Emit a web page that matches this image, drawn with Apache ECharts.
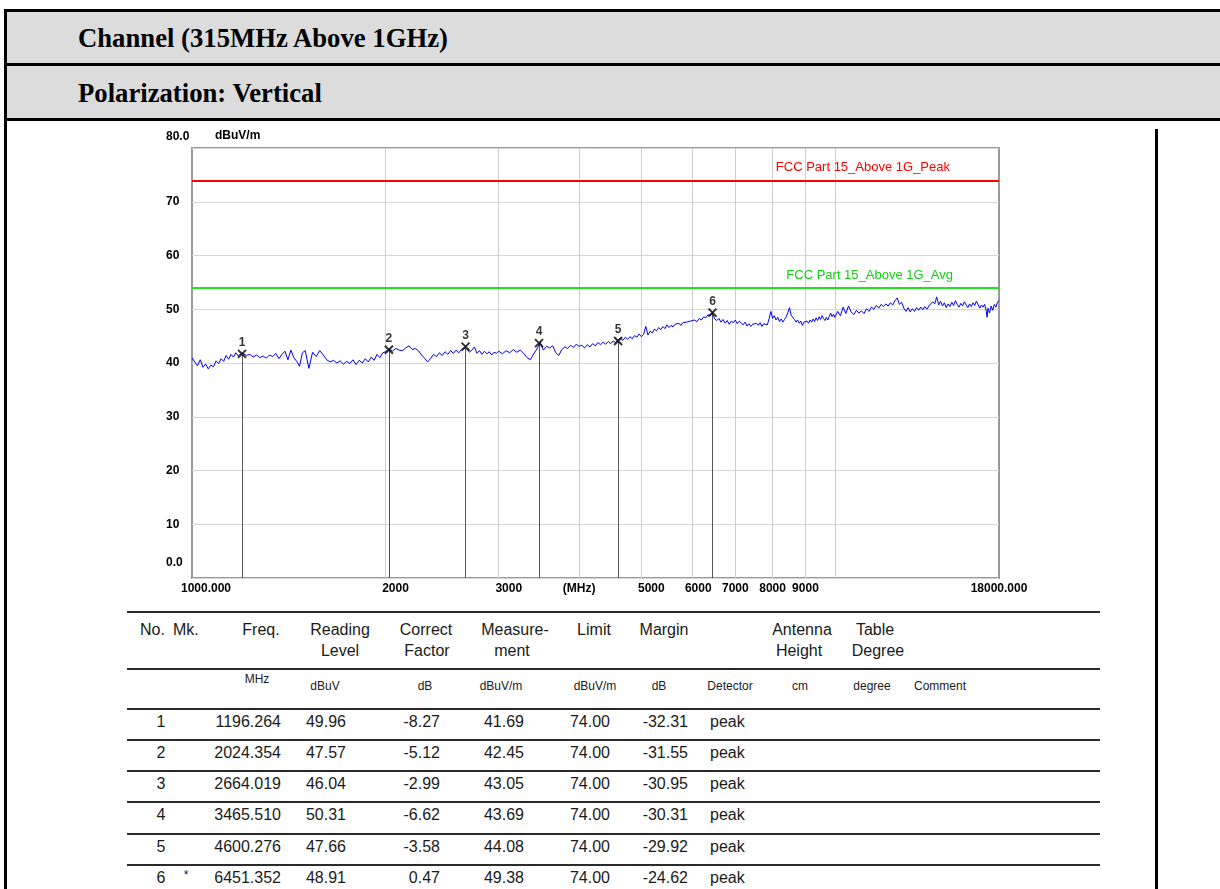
<!DOCTYPE html>
<html>
<head>
<meta charset="utf-8">
<title>Channel (315MHz Above 1GHz) - Vertical</title>
<script src="https://cdn.jsdelivr.net/npm/echarts@6/dist/echarts.min.js"></script>
<style>
  body { margin: 0; width: 1220px; height: 889px; position: relative; overflow: hidden; background: #fff; }
  .band { position: absolute; left: 4px; width: 1216px; height: 55px; background: #dcdcdc; }
  .rule { position: absolute; background: #000; }
  .htxt { position: absolute; left: 78px; font: bold 26.7px 'Liberation Serif', 'Times New Roman', serif; line-height: 30px; color: #000; }
  #chart { position: absolute; left: 0; top: 0; width: 1220px; height: 605px; }
  .cell { position: absolute; white-space: nowrap; color: #1a1a1a; font-family: 'Liberation Sans', Arial, sans-serif; line-height: 1; }
  .tline { position: absolute; left: 127px; width: 973px; height: 2px; background: #2a2a2a; }
</style>
</head>
<body>
<div class="band" style="top:9px"></div>
<div class="band" style="top:64px"></div>
<div class="rule" style="left:4px;top:9px;width:1216px;height:3px"></div>
<div class="rule" style="left:4px;top:63px;width:1216px;height:3px"></div>
<div class="rule" style="left:4px;top:118px;width:1216px;height:3px"></div>
<div class="rule" style="left:4px;top:9px;width:3px;height:880px"></div>
<div class="rule" style="left:1155px;top:129px;width:3px;height:760px"></div>
<div class="htxt" style="top:23px">Channel (315MHz Above 1GHz)</div>
<div class="htxt" style="top:78px">Polarization: Vertical</div>
<div id="chart"></div>
<div id="table"></div>
<script>
// limits (dBuV/m)
const peakLimit = 74;
const avgLimit = 54;

// x axis ticks
const xTickValues = [1000, 2000, 3000, 4000, 5000, 6000, 7000, 8000, 9000, 18000];
const xTickText = ['1000.000', '2000', '3000', '(MHz)', '5000', '6000', '7000', '8000', '9000', '18000.000'];
const xGridValues = [2000, 3000, 4000, 5000, 6000, 7000, 8000, 9000, 10000];

const trace = [
  [1000,41.0],[1010,40.2],[1020,39.5],[1030,40.6],[1040,39.2],[1050,39.8],[1060,38.9],[1070,39.6],[1080,39.3],[1090,40.4],
  [1100,39.9],[1110,40.8],[1120,40.3],[1130,41.4],[1140,40.7],[1150,41.6],[1160,41.1],[1170,41.9],[1180,41.3],[1190,41.7],
  [1200,41.8],[1215,41.4],[1230,41.6],[1245,41.1],[1260,41.5],[1275,41.0],[1290,41.3],[1305,40.9],[1320,41.5],[1335,41.2],
  [1350,41.8],[1365,40.8],[1380,41.6],[1395,42.2],[1410,40.6],[1425,42.4],[1440,41.0],[1455,40.3],[1470,39.4],[1485,41.9],
  [1500,42.3],[1520,39.0],[1540,42.0],[1560,41.2],[1580,42.3],[1600,41.5],[1620,40.6],[1640,40.2],[1660,40.5],[1680,40.0],
  [1700,40.4],[1720,39.8],[1740,40.3],[1760,39.9],[1780,40.6],[1800,39.7],[1820,40.5],[1840,40.0],[1860,40.8],[1880,40.2],
  [1900,41.1],[1920,40.5],[1940,41.6],[1960,41.0],[1980,41.9],[2000,42.1],[2025,42.6],[2050,42.2],[2075,42.7],[2100,42.4],
  [2125,42.3],[2150,42.8],[2175,43.2],[2200,42.5],[2225,42.7],[2250,42.3],[2275,41.5],[2300,40.9],[2325,40.2],[2350,40.8],
  [2375,41.6],[2400,41.2],[2425,41.9],[2450,41.4],[2475,42.1],[2500,41.6],[2525,42.3],[2550,41.8],[2575,42.4],[2600,41.9],
  [2625,42.5],[2650,42.8],[2675,42.6],[2700,42.0],[2725,42.4],[2750,43.0],[2775,41.8],[2800,42.3],[2825,41.6],[2850,42.2],
  [2875,41.7],[2900,42.1],[2925,41.5],[2950,42.0],[2975,41.8],[3000,42.2],[3040,41.7],[3080,42.3],[3120,41.9],[3160,42.5],
  [3200,42.0],[3240,42.4],[3280,41.8],[3320,41.0],[3360,40.6],[3400,41.7],[3440,42.6],[3480,43.9],[3520,42.4],[3560,43.1],
  [3600,42.8],[3640,43.2],[3680,41.9],[3720,41.4],[3760,42.5],[3800,43.0],[3840,42.7],[3880,43.3],[3920,42.9],[3960,43.5],
  [4000,43.1],[4040,43.3],[4080,42.8],[4120,43.4],[4160,43.0],[4200,43.6],[4240,43.2],[4280,43.8],[4320,43.4],[4360,43.9],
  [4400,43.5],[4440,44.0],[4480,43.6],[4520,44.1],[4560,43.8],[4600,44.3],[4640,44.6],[4680,44.2],[4720,44.8],[4760,44.4],
  [4800,44.9],[4840,44.5],[4880,45.1],[4920,44.8],[4960,45.4],[5000,44.9],[5040,45.3],[5080,46.8],[5120,45.2],[5160,45.9],
  [5200,45.6],[5240,46.3],[5280,46.0],[5320,46.6],[5360,46.2],[5400,46.8],[5440,46.4],[5480,47.1],[5520,46.6],[5560,47.0],
  [5600,46.7],[5640,47.2],[5680,46.9],[5720,47.4],[5760,47.0],[5800,47.5],[5840,47.2],[5880,47.6],[5920,47.3],[5960,47.8],
  [6000,47.6],[6050,48.0],[6100,47.7],[6150,48.3],[6200,48.0],[6250,48.6],[6300,48.4],[6350,49.0],[6400,48.8],[6450,49.4],
  [6500,48.2],[6550,47.9],[6600,48.3],[6650,47.6],[6700,48.1],[6750,47.4],[6800,47.9],[6850,47.2],[6900,47.8],[6950,47.5],
  [7000,48.0],[7050,47.3],[7100,47.8],[7150,47.5],[7200,47.1],[7250,47.6],[7300,46.9],[7350,47.3],[7400,46.8],[7450,47.2],
  [7500,46.9],[7550,47.4],[7600,47.0],[7650,47.5],[7700,46.8],[7750,47.3],[7800,47.6],[7850,47.1],[7900,48.2],[7950,49.6],
  [8000,48.3],[8050,48.8],[8100,48.0],[8150,48.5],[8200,47.7],[8250,48.2],[8300,47.6],[8350,48.1],[8400,48.6],[8450,49.4],
  [8500,50.3],[8550,48.9],[8600,49.2],[8650,48.1],[8700,47.6],[8750,48.0],[8800,47.4],[8850,47.8],[8900,47.0],[8950,47.6],
  [9000,47.3],[9050,47.8],[9100,47.4],[9150,48.0],[9200,47.6],[9250,48.2],[9300,47.7],[9350,48.4],[9400,47.9],[9450,48.6],
  [9500,48.1],[9550,48.8],[9600,48.3],[9650,47.9],[9700,48.5],[9750,48.0],[9800,48.7],[9850,49.3],[9900,48.6],[9950,49.1],
  [10000,48.5],[10100,49.6],[10200,48.8],[10300,50.4],[10400,49.2],[10500,50.6],[10600,49.5],[10700,49.0],[10800,49.8],[10900,49.3],
  [11000,49.7],[11100,49.2],[11200,50.1],[11300,49.6],[11400,50.4],[11500,50.0],[11600,50.7],[11700,50.2],[11800,50.9],[11900,50.5],
  [12000,51.0],[12100,50.6],[12200,51.2],[12300,50.8],[12400,51.6],[12500,52.1],[12600,50.9],[12700,51.3],[12800,50.2],[12900,49.6],
  [13000,50.3],[13100,49.5],[13200,50.1],[13300,49.6],[13400,50.3],[13500,49.8],[13600,50.4],[13700,49.9],[13800,50.5],[13900,50.0],
  [14000,50.6],[14100,50.9],[14200,51.4],[14300,51.0],[14400,52.3],[14500,50.8],[14600,51.5],[14700,50.6],[14800,51.2],[14900,50.3],
  [15000,51.0],[15100,50.5],[15200,51.3],[15300,50.7],[15400,51.6],[15500,50.9],[15600,50.4],[15700,51.1],[15800,50.6],[15900,51.4],
  [16000,50.8],[16100,50.3],[16200,51.0],[16300,50.5],[16400,51.2],[16500,50.7],[16600,51.5],[16700,50.9],[16800,50.2],[16900,50.8],
  [17000,50.4],[17100,50.9],[17200,49.6],[17250,48.5],[17300,50.2],[17400,49.3],[17500,50.6],[17600,49.8],[17700,50.9],[17800,50.4],
  [17900,51.3],[18000,51.6]
];

// marker table
const markNo = ['1', '2', '3', '4', '5', '6'];
const markStar = ['', '', '', '', '', '*'];
const markFreq = [1196.264, 2024.354, 2664.019, 3465.510, 4600.276, 6451.352];
const readingLevel = [49.96, 47.57, 46.04, 50.31, 47.66, 48.91];
const correctFactor = [-8.27, -5.12, -2.99, -6.62, -3.58, 0.47];
const measurement = [41.69, 42.45, 43.05, 43.69, 44.08, 49.38];
const limitVal = [74.00, 74.00, 74.00, 74.00, 74.00, 74.00];
const marginVal = [-32.31, -31.55, -30.95, -30.31, -29.92, -24.62];
const detector = ['peak', 'peak', 'peak', 'peak', 'peak', 'peak'];

const chartFont = "'Liberation Sans', Arial, sans-serif";

const chart = echarts.init(document.getElementById('chart'), null, { renderer: 'canvas' });

// the analyser prints some frequency labels a little right of their grid line
function xLabel (v) {
  for (let i = 0; i < xTickValues.length; i++) {
    if (Math.abs(xTickValues[i] - v) < 1) {
      const t = xTickText[i];
      if (i === 0) return '{s14|' + t + '}';
      if (i === 1 || i === 2 || i === 4) return '{s10|' + t + '}';
      if (i === 5) return '{s6|' + t + '}';
      return '{s0|' + t + '}';
    }
  }
  return '';
}
const lblBase = { color: '#000', fontSize: 12, fontWeight: 'bold', fontFamily: chartFont };

const option = {
  animation: false,
  grid: {
    left: 192, top: 148, width: 807, height: 430,
    show: true, backgroundColor: '#fff', borderColor: '#999', borderWidth: 2,
    outerBoundsMode: 'none'
  },
  xAxis: {
    type: 'log', logBase: 10, min: 1000, max: 18000,
    axisLine: { show: false },
    axisTick: { show: false, customValues: xGridValues },
    axisLabel: {
      customValues: xTickValues,
      formatter: xLabel,
      margin: 5, color: '#000', fontSize: 12, fontWeight: 'bold', fontFamily: chartFont,
      showMinLabel: true, showMaxLabel: true,
      rich: {
        s0: Object.assign({}, lblBase),
        s6: Object.assign({ padding: [0, 0, 0, 12] }, lblBase),
        s10: Object.assign({ padding: [0, 0, 0, 20] }, lblBase),
        s14: Object.assign({ padding: [0, 0, 0, 28] }, lblBase)
      }
    },
    splitLine: { show: true, lineStyle: { color: '#cdcdcd', width: 1 } }
  },
  yAxis: {
    type: 'value', min: 0, max: 80, interval: 10,
    name: 'dBuV/m', nameLocation: 'end', nameGap: 12,
    nameTextStyle: { align: 'left', verticalAlign: 'middle', padding: [0, 0, 0, 23], color: '#000', fontSize: 12, fontWeight: 'bold', fontFamily: chartFont },
    axisLine: { show: false },
    axisTick: { show: false },
    axisLabel: {
      align: 'left', margin: 26, color: '#000', fontSize: 12, fontWeight: 'bold', fontFamily: chartFont,
      formatter: function (v) {
        if (v === 80) return '{hi|80.0}';
        if (v === 0) return '{lo|0.0}';
        return String(v);
      },
      rich: {
        hi: Object.assign({ padding: [0, 0, 22, 0] }, lblBase),
        lo: Object.assign({ padding: [0, 0, 30, 0] }, lblBase)
      }
    },
    splitLine: { show: true, lineStyle: { color: '#d6d6d6', width: 1 } }
  },
  series: [
    {
      name: 'Trace',
      type: 'line',
      data: trace,
      symbol: 'none',
      lineStyle: { color: '#0000ff', width: 1 },
      z: 3,
      markLine: {
        symbol: 'none', silent: true,
        data: [
          {
            yAxis: peakLimit,
            lineStyle: { color: '#ff0000', width: 2, type: 'solid' },
            label: { show: true, position: 'insideEndTop', distance: [49, 6], formatter: 'FCC Part 15_Above 1G_Peak', color: '#ff0000', fontSize: 13, fontFamily: chartFont }
          },
          {
            yAxis: avgLimit,
            lineStyle: { color: '#1ee01e', width: 2, type: 'solid' },
            label: { show: true, position: 'insideEndTop', distance: [46, 6], formatter: 'FCC Part 15_Above 1G_Avg', color: '#10d010', fontSize: 13, fontFamily: chartFont }
          }
        ]
      }
    },
    {
      name: 'Markers',
      type: 'scatter',
      data: markFreq.map((f, i) => [f, measurement[i]]),
      symbol: 'path://M0,0L10,10M10,0L0,10',
      symbolSize: 8,
      itemStyle: { color: 'rgba(0,0,0,0)', borderColor: '#000', borderWidth: 2 },
      label: {
        show: true, position: 'top', distance: 0,
        formatter: p => markNo[p.dataIndex],
        color: '#000', fontSize: 12, fontWeight: 'bold', fontFamily: chartFont
      },
      z: 5,
      markLine: {
        symbol: 'none', silent: true,
        label: { show: false },
        lineStyle: { color: '#555', width: 1, type: 'solid' },
        data: markFreq.map((f, i) => [{ coord: [f, 0] }, { coord: [f, measurement[i]] }])
      }
    }
  ]
};
chart.setOption(option);

// result table under the plot
const table = document.getElementById('table');
function put (text, x, y, align, size) {
  const d = document.createElement('div');
  d.className = 'cell';
  d.textContent = text;
  d.style.fontSize = size + 'px';
  d.style.top = y + 'px';
  d.style.left = x + 'px';
  const tx = align === 'center' ? '-50%' : align === 'right' ? '-100%' : '0';
  d.style.transform = 'translate(' + tx + ',-50%)';
  table.appendChild(d);
}
function rule (y) {
  const d = document.createElement('div');
  d.className = 'tline';
  d.style.top = y + 'px';
  table.appendChild(d);
}

[611, 668, 708, 739, 770, 801, 833, 864].forEach(rule);

const headTop = [
  ['No.', 140, 'left'], ['Mk.', 173, 'left'], ['Freq.', 261, 'center'], ['Reading', 340, 'center'],
  ['Correct', 426, 'center'], ['Measure-', 515, 'center'], ['Limit', 594, 'center'], ['Margin', 664, 'center'],
  ['Antenna', 802, 'center'], ['Table', 875, 'center']
];
const headBottom = [
  ['Level', 340], ['Factor', 427], ['ment', 512], ['Height', 799], ['Degree', 878]
];
const units = [
  ['dBuV', 325], ['dB', 425], ['dBuV/m', 501], ['dBuV/m', 595], ['dB', 659],
  ['Detector', 730], ['cm', 800], ['degree', 872], ['Comment', 940]
];
headTop.forEach(h => put(h[0], h[1], 630, h[2], 16));
headBottom.forEach(h => put(h[0], h[1], 651, 'center', 16));
put('MHz', 257, 679, 'center', 12);
units.forEach(u => put(u[0], u[1], 686, 'center', 12));

const rowY = [722, 753, 784, 815, 847, 878];
markNo.forEach((n, i) => {
  const y = rowY[i];
  put(n, 161, y, 'center', 16);
  if (markStar[i]) put(markStar[i], 186, y - 3, 'center', 12);
  put(markFreq[i].toFixed(3), 281, y, 'right', 16);
  put(readingLevel[i].toFixed(2), 346, y, 'right', 16);
  put(correctFactor[i].toFixed(2), 440, y, 'right', 16);
  put(measurement[i].toFixed(2), 524, y, 'right', 16);
  put(limitVal[i].toFixed(2), 610, y, 'right', 16);
  put(marginVal[i].toFixed(2), 688, y, 'right', 16);
  put(detector[i], 710, y, 'left', 16);
});
</script>
</body>
</html>
